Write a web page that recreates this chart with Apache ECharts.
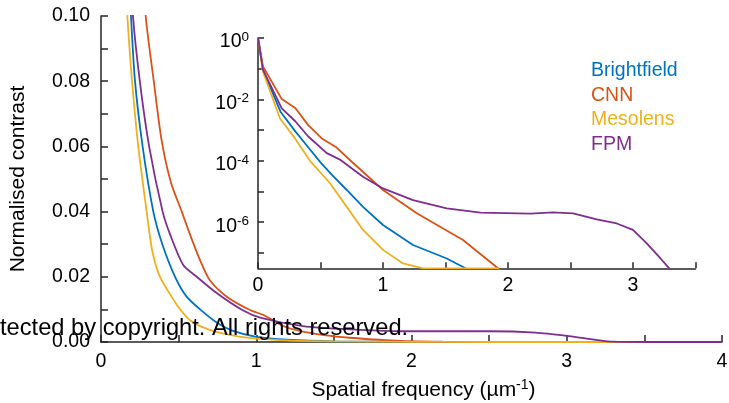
<!DOCTYPE html>
<html>
<head>
<meta charset="utf-8">
<script src="https://cdn.jsdelivr.net/npm/echarts@6/dist/echarts.min.js"></script>
<style>
html, body { margin: 0; padding: 0; background: #fff; }
#chart { width: 729px; height: 403px; }
</style>
</head>
<body>
<div id="chart"></div>
<script>
var names = ['Brightfield', 'CNN', 'Mesolens', 'FPM'];
var colors = ['#0072BD', '#D95319', '#EDB120', '#7E2F8E'];

// main panel: [spatial frequency, normalised contrast]
var brightfieldMain = [[0.16, 0.13], [0.193, 0.100], [0.219, 0.080], [0.268, 0.060], [0.337, 0.040], [0.395, 0.030],
    [0.477, 0.020], [0.55, 0.014], [0.638, 0.010], [0.75, 0.0058], [0.85, 0.0034], [1.0, 0.0016], [1.2, 0.0007],
    [1.5, 0.0002], [2.0, 0.00005], [2.5, 0], [4, 0]];
var cnnMain = [[0.25, 0.13], [0.288, 0.100], [0.340, 0.080], [0.390, 0.062], [0.45, 0.049], [0.52, 0.040],
    [0.57, 0.0334], [0.637, 0.0252], [0.70, 0.019], [0.81, 0.0139], [0.96, 0.0098], [1.05, 0.0082],
    [1.17, 0.0050], [1.28, 0.0034], [1.45, 0.0020], [1.6, 0.0013], [1.93, 0.0003], [2.2, 0.0001],
    [2.5, 0], [4, 0]];
var mesolensMain = [[0.14, 0.13], [0.170, 0.100], [0.200, 0.080], [0.240, 0.060], [0.294, 0.040], [0.33, 0.028],
    [0.38, 0.020], [0.48, 0.012], [0.51, 0.010], [0.573, 0.0067], [0.70, 0.0037], [0.9, 0.0016], [1.2, 0.0005],
    [1.5, 0.0002], [2.0, 0.00005], [2.5, 0], [4, 0]];
var fpmMain = [[0.17, 0.13], [0.206, 0.100], [0.250, 0.080], [0.310, 0.060], [0.397, 0.040], [0.445, 0.033],
    [0.530, 0.0236], [0.617, 0.020], [0.745, 0.015], [0.910, 0.0098], [1.03, 0.0074], [1.3, 0.0049], [1.6, 0.0039],
    [2.0, 0.0033], [2.5, 0.0033], [2.8, 0.0029], [3.0, 0.0019], [3.2, 0.0006], [3.3, 0.0001], [3.5, 0], [4, 0]];

// inset: [spatial frequency, log10 of contrast]
var brightfieldInset = [[0, 0], [0.04, -1.04], [0.18, -2.4], [0.3, -3.05], [0.4, -3.55], [0.5, -4.05], [0.58, -4.41],
    [0.71, -4.95], [0.84, -5.5], [1.0, -6.09], [1.24, -6.74], [1.51, -7.18], [1.66, -7.5], [1.68, -7.7]];
var cnnInset = [[0, 0], [0.04, -0.93], [0.19, -1.99], [0.3, -2.29], [0.4, -2.83], [0.51, -3.27], [0.62, -3.54],
    [0.75, -4.03], [1.0, -4.95], [1.27, -5.71], [1.64, -6.58], [1.92, -7.5], [1.95, -7.7]];
var mesolensInset = [[0, 0], [0.04, -1.1], [0.176, -2.62], [0.296, -3.27], [0.416, -4.0], [0.576, -4.73],
    [0.71, -5.5], [0.84, -6.25], [1.0, -6.9], [1.16, -7.34], [1.32, -7.5], [1.92, -7.5], [1.95, -7.7]];
var fpmInset = [[0, 0], [0.04, -1.04], [0.19, -2.29], [0.3, -2.72], [0.4, -3.2], [0.55, -3.75], [0.66, -3.97],
    [0.84, -4.52], [1.0, -4.9], [1.24, -5.28], [1.51, -5.55], [1.78, -5.69], [2.18, -5.72], [2.36, -5.68],
    [2.52, -5.71], [2.71, -5.91], [2.87, -6.04], [3.0, -6.25], [3.11, -6.69], [3.22, -7.18], [3.29, -7.5], [3.31, -7.7]];

var mainTicks = [0, 1, 2, 3, 4];
var insetXTicks = [0, 1, 2, 3];
var insetYTicks = [0, -1, -2, -3, -4, -5, -6, -7];
var insetYLabels = [0, -2, -4, -6];

var mainData = [brightfieldMain, cnnMain, mesolensMain, fpmMain];
var insetData = [brightfieldInset, cnnInset, mesolensInset, fpmInset];

var axisColor = '#262626';
var font = '"Liberation Sans", Arial, sans-serif';

function toLog(arr) {
    return arr.map(function (p) { return [p[0], Math.pow(10, p[1])]; });
}

var series = [];
for (var i = 0; i < names.length; i++) {
    series.push({
        name: names[i], type: 'line', xAxisIndex: 0, yAxisIndex: 0,
        data: mainData[i], showSymbol: false, symbol: 'none',
        smooth: 0.25,
        lineStyle: { color: colors[i], width: 1.8 }, itemStyle: { color: colors[i] }
    });
}
for (var j = 0; j < names.length; j++) {
    series.push({
        name: names[j], type: 'line', xAxisIndex: 1, yAxisIndex: 1,
        data: toLog(insetData[j]), showSymbol: false, symbol: 'none',
        lineStyle: { color: colors[j], width: 1.8 }, itemStyle: { color: colors[j] }
    });
}

var chart = echarts.init(document.getElementById('chart'));

var option = {
    animation: false,
    backgroundColor: '#fff',
    textStyle: { fontFamily: font },
    grid: [
        { left: 101, top: 16, right: 7, bottom: 61, outerBoundsMode: 'none', containLabel: false },
        { left: 258, top: 38, right: 33.5, bottom: 134.7, outerBoundsMode: 'none', containLabel: false }
    ],
    legend: {
        orient: 'vertical', left: 581, top: 56,
        icon: 'rect', itemWidth: 0, itemHeight: 0, itemGap: 4.5,
        selectedMode: false,
        textStyle: { fontSize: 19.5, fontFamily: font },
        data: names.map(function (n, k) { return { name: n, textStyle: { color: colors[k] } }; })
    },
    xAxis: [
        {
            gridIndex: 0, type: 'value', min: 0, max: 4, interval: 0.5,
            axisLine: { show: true, onZero: false, lineStyle: { color: axisColor, width: 1.5 } },
            axisTick: { show: true, inside: true, length: 7, lineStyle: { color: axisColor, width: 1.5 } },
            axisLabel: {
                fontSize: 19.5, color: '#000', margin: 10,
                formatter: function (v) { return mainTicks.indexOf(v) >= 0 ? String(v) : ''; }
            },
            splitLine: { show: false },
            name: '{a|Spatial frequency (µm}{s|-1}{a|)}',
            nameLocation: 'middle', nameGap: 36,
            nameTextStyle: {
                padding: [0, 0, 0, 24],
                rich: {
                    a: { fontSize: 21, color: '#000', fontFamily: font },
                    s: { fontSize: 14, color: '#000', fontFamily: font, padding: [0, 0, 10, 0] }
                }
            }
        },
        {
            gridIndex: 1, type: 'value', min: 0, max: 3.5, interval: 0.5,
            axisLine: { show: true, onZero: false, lineStyle: { color: axisColor, width: 1.5 } },
            axisTick: { show: true, inside: true, length: 6, lineStyle: { color: axisColor, width: 1.5 } },
            axisLabel: {
                fontSize: 19.5, color: '#000', margin: 7,
                formatter: function (v) { return insetXTicks.indexOf(v) >= 0 ? String(v) : ''; }
            },
            splitLine: { show: false }
        }
    ],
    yAxis: [
        {
            gridIndex: 0, type: 'value', min: 0, max: 0.1, interval: 0.01,
            axisLine: { show: true, onZero: false, lineStyle: { color: axisColor, width: 1.5 } },
            axisTick: { show: true, inside: true, length: 7, lineStyle: { color: axisColor, width: 1.5 } },
            axisLabel: {
                fontSize: 19.5, color: '#000', margin: 11, showMaxLabel: true,
                formatter: function (v) {
                    var k = Math.round(v * 100);
                    return k % 2 === 0 ? (k / 100).toFixed(2) : '';
                }
            },
            splitLine: { show: false },
            name: 'Normalised contrast', nameLocation: 'middle', nameGap: 72,
            nameTextStyle: { fontSize: 21, color: '#000' }
        },
        {
            gridIndex: 1, type: 'log', logBase: 10, min: Math.pow(10, -7.5), max: 1,
            axisLine: { show: true, onZero: false, lineStyle: { color: axisColor, width: 1.5 } },
            axisTick: {
                show: true, inside: true, length: 6, lineStyle: { color: axisColor, width: 1.5 },
                customValues: insetYTicks.map(function (e) { return Math.pow(10, e); })
            },
            axisLabel: {
                margin: 9, color: '#000',
                customValues: insetYLabels.map(function (e) { return Math.pow(10, e); }),
                formatter: function (v) {
                    var e = Math.round(Math.log(v) / Math.LN10);
                    return '{b|10}{s|' + e + '}';
                },
                rich: {
                    b: { fontSize: 19.5, color: '#000', fontFamily: font, padding: [8, 0, 0, 0] },
                    s: { fontSize: 13.5, color: '#000', fontFamily: font, padding: [0, 0, 2, 0] }
                }
            },
            splitLine: { show: false }
        }
    ],
    graphic: [{
        type: 'text', z: 100,
        style: {
            x: 0, y: 328, text: 'tected by copyright. All rights reserved.',
            fontSize: 23.7, fontFamily: font, fill: '#000', verticalAlign: 'middle'
        }
    }],
    series: series
};

chart.setOption(option);
</script>
</body>
</html>
